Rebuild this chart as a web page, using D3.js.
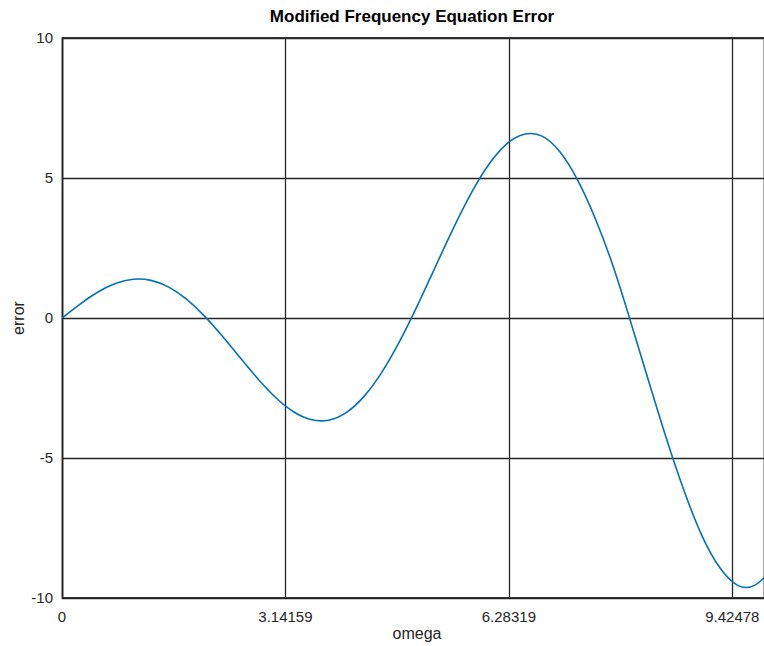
<!DOCTYPE html>
<html>
<head>
<meta charset="utf-8">
<script src="https://cdn.jsdelivr.net/npm/d3@7"></script>
<style>
  html, body { margin: 0; padding: 0; background: #fff; }
  svg { display: block; }
  text { font-family: "Liberation Sans", Arial, Helvetica, sans-serif; fill: #262626; }
</style>
</head>
<body>
<div id="chart"></div>
<script>
// values
var omega = [0, 0.25, 0.5, 0.75, 1, 1.25, 1.5, 1.75, 2, 2.25, 2.5, 2.75, 3, 3.25,
    3.5, 3.75, 4, 4.25, 4.5, 4.75, 5, 5.25, 5.5, 5.75, 6, 6.25, 6.5, 6.75, 7,
    7.25, 7.5, 7.75, 8, 8.25, 8.5, 8.75, 9, 9.25, 9.5, 9.75, 10];
var error = [0, 0.49, 0.918, 1.23, 1.382, 1.343, 1.104, 0.672, 0.077, -0.635,
    -1.404, -2.16, -2.829, -3.339, -3.628, -3.649, -3.371, -2.791, -1.926,
    -0.82, 0.459, 1.83, 3.192, 4.444, 5.482, 6.213, 6.563, 6.496, 5.934,
    4.923, 3.538, 1.837, -0.175, -2.267, -4.319, -6.195, -7.788, -8.922,
    -9.548, -9.531, -8.935];
var xTicks = [0, 3.14159, 6.28319, 9.42478];
var yTicks = [-10, -5, 0, 5, 10];
var xDomain = [0, 9.87],
    yDomain = [-10, 10];

var width = 764,
    height = 646,
    margin = {top: 38, right: 0, bottom: 48, left: 62},
    gridColor = '#262626',
    lineColor = '#0072bd';

var svg = d3.select('#chart').append('svg')
    .attr('width', width)
    .attr('height', height);

var x = d3.scaleLinear()
    .domain(xDomain)
    .range([margin.left, width - margin.right]);
var y = d3.scaleLinear()
    .domain(yDomain)
    .range([height - margin.bottom, margin.top]);

var data = omega.map(function (w, i) { return {w: w, e: error[i]}; });

// grid
svg.append('g')
    .selectAll('line')
    .data(xTicks)
    .enter()
    .append('line')
    .attr('x1', function (d) { return Math.round(x(d)) + 0.5; })
    .attr('x2', function (d) { return Math.round(x(d)) + 0.5; })
    .attr('y1', y(yDomain[0]))
    .attr('y2', y(yDomain[1]))
    .style('stroke', gridColor)
    .style('stroke-width', 1.3);
svg.append('g')
    .selectAll('line')
    .data(yTicks)
    .enter()
    .append('line')
    .attr('x1', x(xDomain[0]))
    .attr('x2', x(xDomain[1]))
    .attr('y1', function (d) { return Math.round(y(d)) + 0.5; })
    .attr('y2', function (d) { return Math.round(y(d)) + 0.5; })
    .style('stroke', gridColor)
    .style('stroke-width', 1.3);

// frame
svg.append('rect')
    .attr('x', x(xDomain[0]) + 0.5)
    .attr('y', y(yDomain[1]))
    .attr('width', x(xDomain[1]) - x(xDomain[0]))
    .attr('height', y(yDomain[0]) - y(yDomain[1]))
    .style('fill', 'none')
    .style('stroke', gridColor)
    .style('stroke-width', 1.8);

// curve
svg.append('clipPath').attr('id', 'plotclip')
    .append('rect')
    .attr('x', x(xDomain[0]))
    .attr('y', y(yDomain[1]))
    .attr('width', x(xDomain[1]) - x(xDomain[0]))
    .attr('height', y(yDomain[0]) - y(yDomain[1]));

svg.append('path')
    .datum(data)
    .attr('clip-path', 'url(#plotclip)')
    .attr('d', d3.line()
        .x(function (d) { return x(d.w); })
        .y(function (d) { return y(d.e); })
        .curve(d3.curveNatural))
    .style('fill', 'none')
    .style('stroke', lineColor)
    .style('stroke-width', 1.6);

// tick labels
svg.append('g')
    .selectAll('text')
    .data(xTicks)
    .enter()
    .append('text')
    .attr('x', function (d) { return x(d); })
    .attr('y', y(yDomain[0]) + 24)
    .attr('text-anchor', 'middle')
    .style('font-size', '15px')
    .text(function (d) { return d; });
svg.append('g')
    .selectAll('text')
    .data(yTicks)
    .enter()
    .append('text')
    .attr('x', x(xDomain[0]) - 9)
    .attr('y', function (d) { return y(d) + 5; })
    .attr('text-anchor', 'end')
    .style('font-size', '15px')
    .text(function (d) { return d; });

// axis titles
svg.append('text')
    .attr('x', 417)
    .attr('y', 639)
    .attr('text-anchor', 'middle')
    .style('font-size', '16px')
    .text('omega');
svg.append('text')
    .attr('transform', 'translate(24,' + y(0) + ') rotate(-90)')
    .attr('text-anchor', 'middle')
    .style('font-size', '16px')
    .text('error');
svg.append('text')
    .attr('x', 412)
    .attr('y', 22)
    .attr('text-anchor', 'middle')
    .style('font-size', '17px')
    .style('font-weight', 'bold')
    .style('fill', '#000')
    .text('Modified Frequency Equation Error');
</script>
</body>
</html>
